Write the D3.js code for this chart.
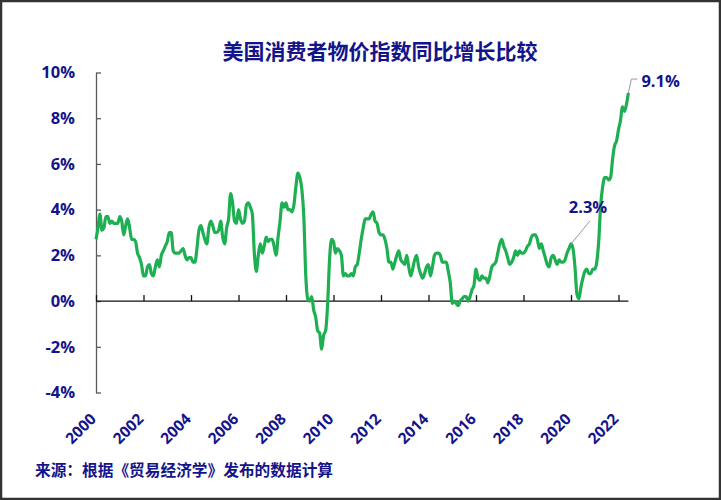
<!DOCTYPE html>
<html>
<head>
<meta charset="utf-8">
<script src="https://cdn.jsdelivr.net/npm/d3@7"></script>
<style>
  html, body { margin: 0; padding: 0; background: #fff; }
  svg { display: block; }
</style>
</head>
<body>
<svg id="chart" width="721" height="500"></svg>
<script>
// ---- Data (monthly US CPI YoY %, Jan 2000 - Jun 2022) ----
const startYear = 2000;
const cpi2000 = [2.7, 3.2, 3.8, 3.1, 3.2, 3.7, 3.7, 3.4, 3.5, 3.4, 3.4, 3.4];
const cpi2001 = [3.7, 3.5, 2.9, 3.3, 3.6, 3.2, 2.7, 2.7, 2.6, 2.1, 1.9, 1.6];
const cpi2002 = [1.1, 1.1, 1.5, 1.6, 1.2, 1.1, 1.5, 1.8, 1.5, 2.0, 2.2, 2.4];
const cpi2003 = [2.6, 3.0, 3.0, 2.2, 2.1, 2.1, 2.1, 2.2, 2.3, 2.0, 1.8, 1.9];
const cpi2004 = [1.9, 1.7, 1.7, 2.3, 3.1, 3.3, 3.0, 2.7, 2.5, 3.2, 3.5, 3.3];
const cpi2005 = [3.0, 3.0, 3.1, 3.5, 2.8, 2.5, 3.2, 3.6, 4.7, 4.3, 3.5, 3.4];
const cpi2006 = [4.0, 3.6, 3.4, 3.5, 4.2, 4.3, 4.1, 3.8, 2.1, 1.3, 2.0, 2.5];
const cpi2007 = [2.1, 2.4, 2.8, 2.6, 2.7, 2.7, 2.4, 2.0, 2.8, 3.5, 4.3, 4.1];
const cpi2008 = [4.3, 4.0, 4.0, 3.9, 4.2, 5.0, 5.6, 5.4, 4.9, 3.7, 1.1, 0.1];
const cpi2009 = [0.0, 0.2, -0.4, -0.7, -1.3, -1.4, -2.1, -1.5, -1.3, -0.2, 1.8, 2.7];
const cpi2010 = [2.6, 2.1, 2.3, 2.2, 2.0, 1.1, 1.2, 1.1, 1.1, 1.2, 1.1, 1.5];
const cpi2011 = [1.6, 2.1, 2.7, 3.2, 3.6, 3.6, 3.6, 3.8, 3.9, 3.5, 3.4, 3.0];
const cpi2012 = [2.9, 2.9, 2.7, 2.3, 1.7, 1.7, 1.4, 1.7, 2.0, 2.2, 1.8, 1.7];
const cpi2013 = [1.6, 2.0, 1.5, 1.1, 1.4, 1.8, 2.0, 1.5, 1.2, 1.0, 1.2, 1.5];
const cpi2014 = [1.6, 1.1, 1.5, 2.0, 2.1, 2.1, 2.0, 1.7, 1.7, 1.7, 1.3, 0.8];
const cpi2015 = [-0.1, 0.0, -0.1, -0.2, 0.0, 0.1, 0.2, 0.2, 0.0, 0.2, 0.5, 0.7];
const cpi2016 = [1.4, 1.0, 0.9, 1.1, 1.0, 1.0, 0.8, 1.1, 1.5, 1.6, 1.7, 2.1];
const cpi2017 = [2.5, 2.7, 2.4, 2.2, 1.9, 1.6, 1.7, 1.9, 2.2, 2.0, 2.2, 2.1];
const cpi2018 = [2.1, 2.2, 2.4, 2.5, 2.8, 2.9, 2.9, 2.7, 2.3, 2.5, 2.2, 1.9];
const cpi2019 = [1.6, 1.5, 1.9, 2.0, 1.8, 1.6, 1.8, 1.7, 1.7, 1.8, 2.1, 2.3];
const cpi2020 = [2.5, 2.3, 1.5, 0.3, 0.1, 0.6, 1.0, 1.3, 1.4, 1.2, 1.2, 1.4];
const cpi2021 = [1.4, 1.7, 2.6, 4.2, 5.0, 5.4, 5.4, 5.3, 5.4, 6.2, 6.8, 7.0];
const cpi2022 = [7.5, 7.9, 8.5, 8.3, 8.6, 9.1];

const yTicks = [-4, -2, 0, 2, 4, 6, 8, 10];
const xTickYears = [2000, 2002, 2004, 2006, 2008, 2010, 2012, 2014, 2016, 2018, 2020, 2022];
const titleText = "美国消费者物价指数同比增长比较";
const sourceText = "来源：根据《贸易经济学》发布的数据计算";
const annotations = [
  { month: 2020, index: 0, label: "2.3%" },
  { month: 2022, index: 5, label: "9.1%" }
];

const series = [].concat(cpi2000, cpi2001, cpi2002, cpi2003, cpi2004, cpi2005, cpi2006,
  cpi2007, cpi2008, cpi2009, cpi2010, cpi2011, cpi2012, cpi2013, cpi2014, cpi2015,
  cpi2016, cpi2017, cpi2018, cpi2019, cpi2020, cpi2021, cpi2022);
const data = series.map((v, i) => ({ m: i, v }));

// ---- Layout ----
const navy = "#14148a";
const green = "#1eaf52";
const numFont = "'Open Sans', Lato, sans-serif";
const cjkFont = "'Noto Sans CJK SC', sans-serif";

const svg = d3.select("#chart");

// Border
svg.append("rect").attr("x", 1).attr("y", 1).attr("width", 719).attr("height", 498)
  .attr("fill", "#fff").attr("stroke", "#333").attr("stroke-width", 2.5);

const x = d3.scaleLinear().domain([0, 264]).range([96, 618.5]);
const y = d3.scaleLinear().domain([-4, 10]).range([392.5, 72.5]);

// Title
svg.append("text").attr("x", 380).attr("y", 59).attr("text-anchor", "middle")
  .attr("font-family", cjkFont).attr("font-weight", "bold").attr("font-size", 21)
  .attr("fill", navy).text(titleText);

// Y axis
const yAxis = d3.axisLeft(y).tickValues(yTicks).tickSizeInner(-5).tickSizeOuter(0)
  .tickPadding(21).tickFormat(d => d + "%");
const gy = svg.append("g").attr("transform", "translate(96,0)").call(yAxis);
gy.select(".domain").attr("stroke", "#595959").attr("stroke-width", 1.3);
gy.selectAll(".tick line").attr("stroke", "#595959").attr("stroke-width", 1.3);
gy.selectAll(".tick text").attr("font-family", numFont).attr("font-weight", "bold")
  .attr("font-size", 16.5).attr("fill", navy);

// X axis on the zero line (ticks pointing up), labels at bottom
const xTickVals = xTickYears.map(yr => (yr - startYear) * 12);
const xAxis = d3.axisBottom(x).tickValues(xTickVals).tickSizeInner(-6).tickSizeOuter(0)
  .tickFormat("");
const gx = svg.append("g").attr("transform", `translate(0,${y(0)})`).call(xAxis);
gx.select(".domain").attr("d", `M${x(0)},0H${x(series.length - 1)}`)
  .attr("stroke", "#111").attr("stroke-width", 1.3);
gx.selectAll(".tick line").attr("stroke", "#111").attr("stroke-width", 1.3);

svg.append("g").selectAll("text").data(xTickYears).join("text")
  .attr("transform", d => `translate(${x((d - startYear) * 12) + 1},420) rotate(-45)`)
  .attr("text-anchor", "end")
  .attr("font-family", numFont).attr("font-weight", "bold").attr("font-size", 15.5)
  .attr("fill", navy).text(d => d);

// Line
const line = d3.line().x(d => x(d.m)).y(d => y(d.v)).curve(d3.curveMonotoneX);
svg.append("path").datum(data).attr("d", line).attr("fill", "none")
  .attr("stroke", green).attr("stroke-width", 3.2).attr("stroke-linejoin", "round");

// Annotations
const a1 = annotations[0];
const i1 = (a1.month - startYear) * 12 + a1.index;
svg.append("line").attr("x1", x(i1)).attr("y1", y(series[i1]))
  .attr("x2", x(i1) + 19).attr("y2", y(series[i1]) - 23)
  .attr("stroke", "#999").attr("stroke-width", 1);
svg.append("text").attr("x", 588).attr("y", 213).attr("text-anchor", "middle")
  .attr("font-family", numFont).attr("font-weight", "bold").attr("font-size", 16.5)
  .attr("fill", navy).text(a1.label);

const a2 = annotations[1];
const i2 = (a2.month - startYear) * 12 + a2.index;
const px = x(i2), py = y(series[i2]);
svg.append("path").attr("d", `M${px},${py}L${px + 3},${py - 14}H${px + 9}`)
  .attr("fill", "none").attr("stroke", "#999").attr("stroke-width", 1);
svg.append("text").attr("x", px + 13).attr("y", 87).attr("text-anchor", "start")
  .attr("font-family", numFont).attr("font-weight", "bold").attr("font-size", 16.5)
  .attr("fill", navy).text(a2.label);

// Source
svg.append("text").attr("x", 35).attr("y", 476)
  .attr("font-family", cjkFont).attr("font-weight", "bold").attr("font-size", 15.7)
  .attr("fill", navy).text(sourceText);
</script>
</body>
</html>
